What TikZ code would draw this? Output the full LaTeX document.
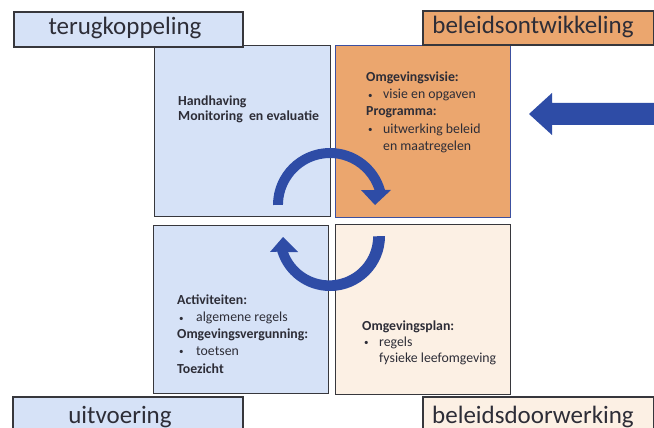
\documentclass[tikz,border=0pt]{standalone}
\usepackage{fontspec}
\setmainfont{Carlito}
\definecolor{qblue}{RGB}{214,226,247}
\definecolor{qorange}{RGB}{235,166,110}
\definecolor{qcream}{RGB}{252,240,228}
\definecolor{arrowblue}{RGB}{46,76,166}
\definecolor{edgegray}{RGB}{55,55,60}
\definecolor{txt}{RGB}{45,45,55}
\definecolor{tredge}{RGB}{60,80,160}
\begin{document}
\begin{tikzpicture}[x=1pt,y=1pt,
  quad/.style={draw=edgegray, line width=1.4pt, inner sep=0pt, anchor=north west},
  labelbox/.style={draw=edgegray, line width=2pt, inner sep=0pt, anchor=north west},
  labeltext/.style={text=txt, font=\fontsize{25}{30}\selectfont, inner sep=0pt, anchor=base},
  qtext/.style={text=txt, font=\fontsize{13.8}{16.8}\selectfont, align=left, inner sep=0pt, anchor=base west},
  bigarrow/.style={fill=arrowblue, draw=none}]
\useasboundingbox (0,0) rectangle (654,-428);
\fill[white] (0,0) rectangle (654,-428);
% quadrants
\node[quad, fill=qblue, minimum width=176pt, minimum height=171pt] (tl) at (154,-45) {};
\node[quad, fill=qorange, draw=tredge, minimum width=175pt, minimum height=172pt] (tr) at (335,-45) {};
\node[quad, fill=qblue, minimum width=175pt, minimum height=168pt] (bl) at (153,-225) {};
\node[quad, fill=qcream, minimum width=175pt, minimum height=170pt] (br) at (335,-224) {};
% label boxes
\node[labelbox, fill=qblue, minimum width=229pt, minimum height=35pt] (lterug) at (13,-11) {};
\node[labelbox, fill=qorange, minimum width=231pt, minimum height=34pt] (lontw) at (422,-10) {};
\node[labelbox, fill=qblue, minimum width=230pt, minimum height=44pt] (luitv) at (12,-396) {};
\node[labelbox, fill=qcream, minimum width=231pt, minimum height=44pt] (ldoor) at (422,-396) {};
% label texts
\node[labeltext] (tterug) at (125,-35) {terugkoppeling};
\node[labeltext] (tontw) at (533,-34) {beleidsontwikkeling};
\node[labeltext] (tuitv) at (120,-423) {uitvoering};
\node[labeltext] (tdoor) at (533,-423) {beleidsdoorwerking};
% quadrant texts (anchor = baseline of last line)
\newcommand{\blt}{\hspace*{2pt}\makebox[15pt][l]{\raisebox{0.5pt}{\fontsize{9}{9}\selectfont •}}}
\node[qtext] (ttl) at (178,-120.5) {\textbf{Handhaving}\\[-1.8pt]\textbf{Monitoring\ \ en evaluatie}};
\node[qtext] (ttr) at (366,-150) {\textbf{Omgevingsvisie:}\\\blt visie en opgaven\\\textbf{Programma:}\\[1pt]\blt uitwerking beleid\\\hspace*{17pt}en maatregelen};
\node[qtext] (tbl) at (177,-373) {\textbf{Activiteiten:}\\\blt\hspace*{2pt}algemene regels\\\textbf{Omgevingsvergunning:}\\\blt\hspace*{2pt}toetsen\\[1pt]\textbf{Toezicht}};
\node[qtext] (tbr) at (362,-362) {\textbf{Omgevingsplan:}\\[-0.8pt]\blt regels\\[-0.8pt]\hspace*{17pt}fysieke leefomgeving};
% circular arrows
\fill[arrowblue] (273,-205) arc[start angle=180, end angle=15.3, radius=57]
  -- (391,-190) -- (375,-205) -- (361,-190) -- (374.5,-190)
  arc[start angle=18.6, end angle=180, radius=47] -- cycle;
\fill[arrowblue] (385,-236) arc[start angle=0, end angle=-163.4, radius=55]
  -- (270,-252) -- (283,-237) -- (298,-252) -- (288,-252)
  arc[start angle=-159.2, end angle=0, radius=44] -- cycle;
% incoming arrow
\fill[bigarrow] (654,-103) -- (552,-103) -- (552,-93) -- (529,-114) -- (552,-135) -- (552,-125) -- (654,-125) -- cycle;
\end{tikzpicture}
\end{document}
